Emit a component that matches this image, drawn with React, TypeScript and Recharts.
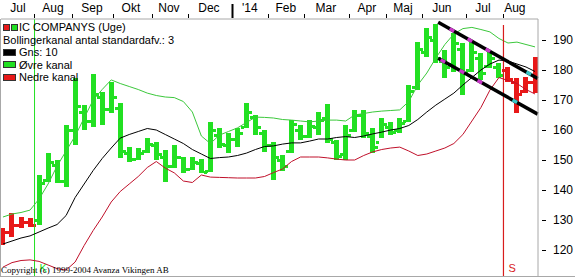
import React from 'react';
import { ComposedChart, Bar, Line, XAxis, YAxis, ReferenceLine, Legend } from 'recharts';

// Ugentlige kurser (uge 0 = første uge i juli 2013)
const highs = [
  127.3, 132.3, 131, 130.7, 145, 152.3, 150, 161.7, 177.3, 168.3,
  178.7, 172.7, 176, 169, 154.5, 154, 157.5, 156, 153.3, 155,
  151, 151, 150.3, 162.7, 160.7, 159, 160.7, 169, 165, 160,
  156, 151.7, 163.3, 161.7, 163.3, 166, 168.7, 156.7, 161.7, 166.7,
  166.7, 160.7, 164, 162.7, 164, 175, 189.3, 194, 195.3, 186.7,
  192.3, 189, 189.3, 185.7, 186, 182.3, 181, 177.3, 177.7, 184.3,
];
const lows = [
  121.7, 124.3, 127.3, 127.7, 128.3, 142.7, 142.3, 141, 155, 160,
  161, 161.7, 165.7, 150.7, 149.5, 150, 152.5, 150, 142.7, 147.3,
  145.7, 146.7, 145.7, 146, 154, 152.3, 154.3, 160.7, 158.3, 152.7,
  143.3, 146.3, 152.3, 156.7, 157.3, 158.3, 155.7, 150, 150, 159.3,
  157.3, 152.3, 157.3, 158.3, 159, 162.7, 173.3, 184.3, 182.3, 177.3,
  179.3, 171.7, 179.3, 176.7, 180.7, 177.3, 176, 165.7, 172.3, 172.3,
];
const opens = [
  122.5, 126, 128.5, 129.5, 130, 143.5, 148.5, 143, 160, 166,
  163, 171, 167, 167.5, 152.5, 150.5, 153, 155, 151, 148,
  151, 147, 149, 146.5, 158.5, 155, 157, 161, 164.5, 159,
  155, 150, 153, 160, 158, 161, 164, 156, 152, 160,
  165, 158, 156, 161, 160, 163, 174.5, 186, 190, 183,
  182, 187, 180, 184, 181.5, 181, 180, 176, 173, 176,
];
const closes = [
  126, 128.5, 129.5, 128.5, 142.5, 149.5, 143, 160, 168, 163,
  172, 167, 171, 153, 150.5, 152.5, 155.5, 152, 148, 151,
  147, 149.5, 146, 160, 155.5, 157, 159, 166, 161, 155,
  151, 148, 162, 158, 161.5, 163.5, 157, 151.5, 158.5, 165,
  159, 154.5, 162, 159.5, 162.5, 173, 187, 191, 184, 181,
  189, 179, 186, 179, 184, 178.5, 177, 172, 176, 180,
];

// Bollingerkanal: gennemsnit (10 uger), øvre og nedre kanal
const gns = [
  122, 123, 124, 124.7, 126, 127.3, 128.5, 131.5, 137.5, 142,
  146.5, 150.5, 154, 157.3, 158.5, 159.5, 160.5, 160, 158.5, 157,
  155.5, 153.5, 152, 150.5, 150.8, 151, 151.5, 152.3, 153.5, 154.5,
  154.7, 155.3, 155.7, 155.7, 156.3, 157, 157, 157.5, 157.8, 157.5,
  158, 158.7, 159.3, 160, 160.5, 161.5, 163.5, 166, 168.3, 170.3,
  172.3, 175, 177.5, 180, 182, 183.3, 183, 182, 181, 179.5,
];
const oevre = [
  131, 132, 132.5, 133.3, 137, 142, 148, 153, 158, 164,
  170, 173.5, 176.7, 175.5, 174.5, 173.5, 172.3, 171.5, 171, 170.8,
  169.5, 166, 158, 155.5, 158.3, 159.5, 160.7, 162.5, 164.3, 164.2,
  164, 163.5, 163.3, 163, 162.7, 163, 163.3, 163.3, 163, 165,
  165.5, 166, 166.3, 166.5, 166.7, 169.5, 175, 179, 184, 188.5,
  192, 193.8, 194.2, 193.5, 192.7, 190.5, 189, 189.3, 188.5, 187.7,
];
const nedre = [
  114.3, 115.8, 116.5, 116.7, 116.2, 115, 113.8, 113.3, 116, 121.5,
  126.5, 131, 136, 139.5, 142, 144.5, 147.5, 149.5, 147.3, 145.7,
  143, 142.5, 145, 144.3, 144.2, 144.1, 144, 144, 144, 144.5,
  145.8, 147, 149.5, 151, 151, 151, 150.7, 150.3, 150, 150,
  151.5, 152.7, 153.5, 154, 154.3, 153, 151.5, 152, 153, 154,
  155.5, 158.5, 163, 167.5, 173.3, 177.5, 176.5, 175.5, 173.5, 172,
];

// Køb/salg-signaler (mellem to uger)
const buyWeek = 3.5;
const sellWeek = 55.5;

// Månedsgrænser og -navne på uge-aksen
const monthStarts = [3.44, 7.65, 12.2, 16.52, 20.51, 25.39, 29.38, 33.37, 38.36, 42.46, 46.45, 51.33, 55.43];
const yearStart = 25.39;
const monthMids = [1.66, 5.54, 9.87, 14.19, 18.4, 22.84, 27.38, 31.37, 35.81, 40.35, 44.35, 48.67, 53.22, 56.76];
const monthNames = ['Jul', 'Aug', 'Sep', 'Okt', 'Nov', 'Dec', "'14", 'Feb', 'Mar', 'Apr', 'Maj', 'Jun', 'Jul', 'Aug'];
const priceTicks = [120, 130, 140, 150, 160, 170, 180, 190];

// Indtegnet trendkanal: [uge, kurs] for start og slut
const trendUpper = [[48.26, 195.9], [59.3, 177.2]];
const trendLower = [[48.26, 183.9], [59.3, 165.3]];
const upperMarks = [49.78, 51.77, 53.77];
const lowerMarks = [48.78, 50.89, 52.88];
const upperEndMarks = [58.3];
const lowerEndMarks = [56.76];

const GREEN = '#22e022';
const RED = '#e81818';
const SIGNAL_RED = '#d81c1c';
const FONT = "'Liberation Sans', Arial, sans-serif";

const data = highs.map((h, i) => ({
  i,
  range: [lows[i], h],
  open: opens[i],
  close: closes[i],
  gns: gns[i],
  oevre: oevre[i],
  nedre: nedre[i],
}));

// Søjle med åbningskurs til venstre og lukkekurs til højre
const OhlcBar = (props: any) => {
  const { x, y, width, height, payload } = props;
  const [low, high] = payload.range;
  const span = high - low || 1;
  const toY = (v: number) => y + ((high - v) / span) * height;
  const color = payload.i > buyWeek && payload.i < sellWeek ? GREEN : RED;
  const bx = Math.round(x);
  const w = Math.round(width);
  return (
    <g fill={color}>
      <rect x={bx} y={Math.round(y)} width={w} height={Math.max(1, Math.round(height))} />
      <rect x={bx - 3} y={Math.round(toY(payload.open)) - 1} width={3} height={3} />
      <rect x={bx + w} y={Math.round(toY(payload.close)) - 1} width={3} height={3} />
    </g>
  );
};

const MonthTick = (props: any) => {
  const { x, y, payload } = props;
  const li = monthMids.indexOf(payload.value);
  if (li >= 0) {
    return (
      <text x={x} y={y - 7} textAnchor="middle" fontSize={12} fontFamily={FONT} fill="#000">
        {monthNames[li]}
      </text>
    );
  }
  const big = payload.value === yearStart;
  const lx = Math.round(x) + 0.5;
  return <line x1={lx} x2={lx} y1={big ? y - 15 : y - 5} y2={y - 1} stroke="#000" strokeWidth={big ? 2 : 1} />;
};

const PriceTick = (props: any) => {
  const { x, y, payload } = props;
  const ly = Math.round(y) + 0.5;
  return (
    <g>
      <line x1={x + 4} x2={x + 8} y1={ly} y2={ly} stroke="#000" />
      <text x={x + 15} y={y} dy="0.36em" fontSize={12} fontFamily={FONT} fill="#000">
        {payload.value}
      </text>
    </g>
  );
};

const legendRows = [
  { label: 'IC COMPANYS (Uge)', colors: [RED, GREEN] },
  { label: 'Bollingerkanal antal standardafv.: 3', colors: [] },
  { label: 'Gns: 10', colors: ['#000'] },
  { label: 'Øvre kanal', colors: [GREEN] },
  { label: 'Nedre kanal', colors: [RED] },
];

const ChartLegend = () => (
  <div style={{ fontFamily: FONT, fontSize: 11, color: '#000', lineHeight: '12.5px', whiteSpace: 'nowrap' }}>
    {legendRows.map((row) => (
      <div key={row.label} style={{ display: 'flex', alignItems: 'center', height: 12.5 }}>
        {row.colors.length > 0 && (
          <span style={{ display: 'flex', width: 16, gap: 1 }}>
            {row.colors.map((c, k) => (
              <span
                key={k}
                style={{
                  width: row.colors.length > 1 ? 5 : 11,
                  height: 5,
                  background: c,
                  border: '1px solid #333',
                }}
              />
            ))}
          </span>
        )}
        <span>{row.label}</span>
      </div>
    ))}
  </div>
);

const channelY = (line: number[][], w: number) => {
  const [[x1, y1], [x2, y2]] = line;
  return y1 + ((w - x1) * (y2 - y1)) / (x2 - x1);
};

const markSegment = (line: number[][], w: number, color: string, key: string) => (
  <ReferenceLine
    key={key}
    segment={[
      { x: w - 0.25, y: channelY(line, w - 0.25) },
      { x: w + 0.25, y: channelY(line, w + 0.25) },
    ]}
    stroke={color}
    strokeWidth={3.5}
  />
);

export default function App() {
  return (
    <div style={{ position: 'absolute', left: 0, top: 0, width: 575, height: 278, background: '#fff' }}>
      <ComposedChart width={575} height={278} data={data} margin={{ top: 0, right: 0, bottom: 1, left: 1 }}>
        <XAxis
          dataKey="i"
          type="number"
          orientation="top"
          domain={[-0.22, 59.33]}
          allowDataOverflow
          ticks={[...monthStarts, ...monthMids]}
          interval={0}
          height={19}
          tickSize={0}
          tickMargin={0}
          tickLine={false}
          axisLine={{ stroke: '#a8a8a8' }}
          tick={<MonthTick />}
        />
        <YAxis
          orientation="right"
          domain={[111, 197]}
          allowDataOverflow
          ticks={priceTicks}
          width={37}
          tickSize={0}
          tickMargin={0}
          tickLine={false}
          axisLine={{ stroke: '#a8a8a8' }}
          tick={<PriceTick />}
        />
        <Legend
          layout="horizontal"
          verticalAlign="middle"
          align="center"
          content={<ChartLegend />}
          wrapperStyle={{ position: 'absolute', top: 21, left: 3, width: 'auto', height: 'auto' }}
        />
        <ReferenceLine
          x={buyWeek}
          stroke={GREEN}
          label={{ value: 'K', position: 'insideBottomLeft', offset: 5, fill: GREEN, fontSize: 11, fontFamily: FONT }}
        />
        <Bar dataKey="range" barSize={5} shape={<OhlcBar />} isAnimationActive={false} />
        <Line type="linear" dataKey="oevre" stroke="#3cc83c" strokeWidth={1} dot={false} isAnimationActive={false} />
        <Line type="linear" dataKey="gns" stroke="#000" strokeWidth={1} dot={false} isAnimationActive={false} />
        <Line type="linear" dataKey="nedre" stroke="#c0102a" strokeWidth={1} dot={false} isAnimationActive={false} />
        <ReferenceLine
          segment={[{ x: sellWeek, y: 195 }, { x: sellWeek, y: 111 }]}
          stroke={SIGNAL_RED}
          strokeWidth={1.2}
          label={{ value: 'S', position: 'insideBottomLeft', offset: 5, fill: SIGNAL_RED, fontSize: 11, fontFamily: FONT }}
        />
        <ReferenceLine segment={trendUpper.map(([x, y]) => ({ x, y }))} stroke="#000" strokeWidth={3.5} />
        <ReferenceLine segment={trendLower.map(([x, y]) => ({ x, y }))} stroke="#000" strokeWidth={3.5} />
        {upperMarks.map((w, k) => markSegment(trendUpper, w, '#c838c8', `um${k}`))}
        {lowerMarks.map((w, k) => markSegment(trendLower, w, '#c838c8', `lm${k}`))}
        {upperEndMarks.map((w, k) => markSegment(trendUpper, w, '#38c8c8', `ue${k}`))}
        {lowerEndMarks.map((w, k) => markSegment(trendLower, w, '#38c8c8', `le${k}`))}
      </ComposedChart>
      <div style={{ position: 'absolute', left: 0, top: 19, width: 1, height: 258, background: '#a8a8a8' }} />
      <div style={{ position: 'absolute', left: 0, top: 276, width: 575, height: 1, background: '#a8a8a8' }} />
      <div
        style={{
          position: 'absolute',
          left: 1,
          top: 265,
          fontFamily: "'Liberation Serif', 'Times New Roman', serif",
          fontSize: 9,
          lineHeight: '10px',
          color: '#000',
          whiteSpace: 'nowrap',
        }}
      >
        Copyright (c) 1999-2004 Avanza Vikingen AB
      </div>
    </div>
  );
}
